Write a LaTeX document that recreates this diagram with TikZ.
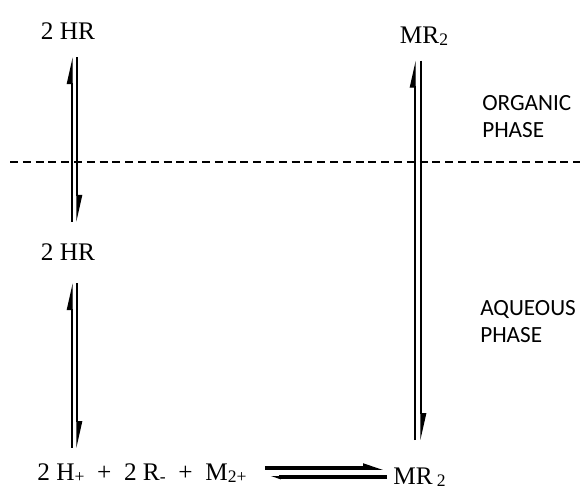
\documentclass[tikz,border=0pt]{standalone}
\usepackage{fontspec}
\setmainfont{Liberation Serif}
\newfontfamily\phasefont{Carlito}
\usetikzlibrary{arrows.meta}

% small index characters, set on the line as in the scheme
\newcommand{\lowidx}[1]{\raisebox{-0.2ex}{\fontsize{12.5}{12.5}\selectfont #1}}

\begin{document}
\begin{tikzpicture}[x=0.25mm,y=-0.25mm,
  chem/.style={font=\fontsize{18}{20}\selectfont, inner sep=0pt},
  phase/.style={font=\phasefont\fontsize{16.5}{19.2}\selectfont, align=left, anchor=west, inner sep=0pt},
  eqline/.style={line width=0.9pt},
  harp/.style={-{Stealth[left,length=6mm,width=2.6mm,inset=0pt]}},
  thickline/.style={line width=2.8pt}]
  \useasboundingbox (0,0) rectangle (580,492);

  % species
  \node[chem] (hrtop) at (68,31) {2 HR};
  \node[chem] (hrmid) at (68,252) {2 HR};
  \node[chem] (mrtop) at (424,36) {MR\lowidx{2}};
  \node[chem,anchor=base west] (ions) at (37,480)
    {2 H\lowidx{+} \ +\ \ 2 R\lowidx{-} \ +\ \ M\lowidx{2+}};
  \node[chem,anchor=base west] (mrbot) at (393,484) {MR\,\lowidx{2}};

  % phase labels
  \node[phase] (org) at (482,117) {ORGANIC\\PHASE};
  \node[phase] (aq) at (480,322) {AQUEOUS\\PHASE};

  % interface
  \draw[line width=0.8pt, dash pattern=on 2mm off 1.2mm] (10,162) -- (580,162);

  % HR organic <-> aqueous
  \draw[eqline,harp,shorten <=5.4mm,shorten >=4.4mm]
    ([xshift=1mm]hrmid.north) -- ([xshift=1mm]hrtop.south);
  \draw[eqline,harp,shorten <=4.4mm,shorten >=5.4mm]
    ([xshift=2.25mm]hrtop.south) -- ([xshift=2.25mm]hrmid.north);

  % HR dissociation
  \draw[eqline,harp,shorten <=3.75mm,shorten >=5.65mm]
    ([xshift=1mm]hrmid.south |- ions.north) -- ([xshift=1mm]hrmid.south);
  \draw[eqline,harp,shorten <=5.65mm,shorten >=3.75mm]
    ([xshift=2.25mm]hrmid.south) -- ([xshift=2.25mm]hrmid.south |- ions.north);

  % MR2 organic <-> aqueous
  \draw[eqline,harp,shorten <=6.75mm,shorten >=3.75mm]
    ([xshift=-2.25mm]mrtop.south |- mrbot.north) -- ([xshift=-2.25mm]mrtop.south);
  \draw[eqline,harp,shorten <=3.75mm,shorten >=6.75mm]
    ([xshift=-0.75mm]mrtop.south) -- ([xshift=-0.75mm]mrtop.south |- mrbot.north);

  % complex formation
  \draw[thickline,-{Stealth[left,length=4mm,width=2mm,inset=0pt]},shorten <=4.5mm,shorten >=1.5mm]
    ([yshift=3mm]ions.base east) -- ([yshift=3mm]ions.base east -| mrbot.west);
  \draw[thickline,-{Stealth[left,length=2mm,width=1mm,inset=0pt]},shorten <=1.5mm,shorten >=5.5mm]
    ([yshift=0.75mm]ions.base east -| mrbot.west) -- ([yshift=0.75mm]ions.base east);
\end{tikzpicture}
\end{document}
